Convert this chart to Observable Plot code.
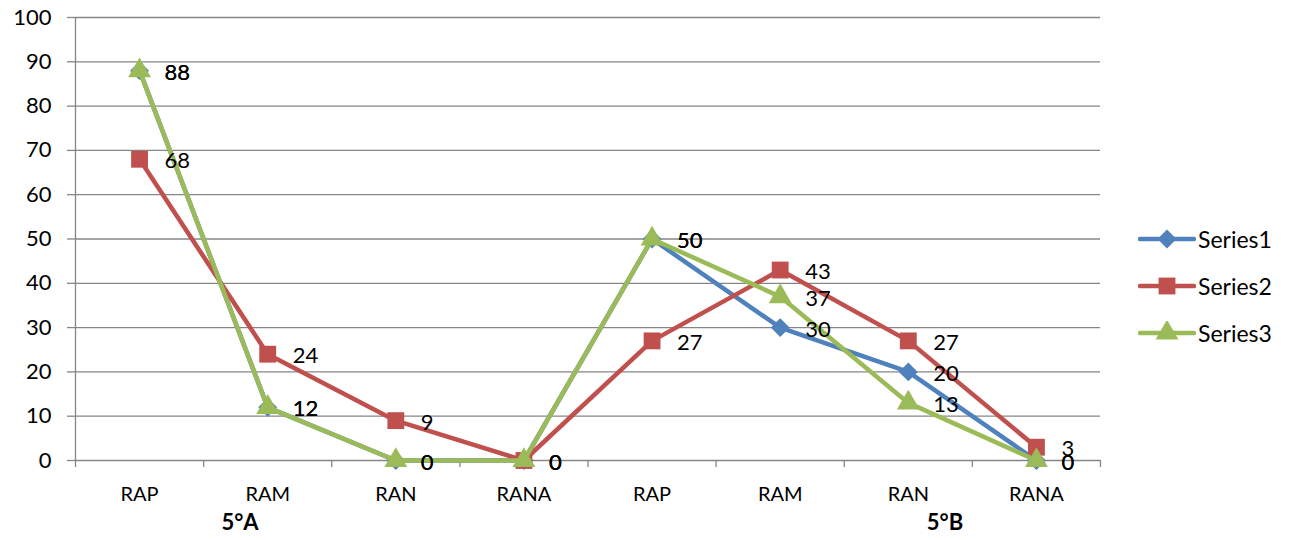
<!DOCTYPE html>
<html>
<head>
<meta charset="utf-8">
<script src="https://cdn.jsdelivr.net/npm/d3@7"></script>
<script src="https://cdn.jsdelivr.net/npm/@observablehq/plot@0.6"></script>
<style>
  html, body { margin: 0; padding: 0; background: #fff; }
  #wrap { position: relative; width: 1292px; height: 540px; font-family: Lato, "Liberation Sans", sans-serif; }
  #wrap svg.plot { position: absolute; left: 0; top: 0; }
  .legend { position: absolute; left: 1138px; top: 215px; font-size: 23px; color: #000; }
  .legend .item { display: flex; align-items: center; height: 47px; }
  .legend .item svg { margin-right: 2px; }
  .group { position: absolute; font-weight: bold; font-size: 22px; transform: translateX(-50%); line-height: 26px; }
</style>
</head>
<body>
<div id="wrap"></div>
<script>
const categories = ["RAP", "RAM", "RAN", "RANA", "RAP", "RAM", "RAN", "RANA"];
const groups = ["5°A", "5°B"];
const seriesNames = ["Series1", "Series2", "Series3"];
const series1 = [88, 12, 0, 0, 50, 30, 20, 0];
const series2 = [68, 24, 9, 0, 27, 43, 27, 3];
const series3 = [88, 12, 0, 0, 50, 37, 13, 0];
const yTicks = [0, 10, 20, 30, 40, 50, 60, 70, 80, 90, 100];

const colors = ["#4F81BD", "#C0504D", "#9BBB59"];
const symbols = ["diamond2", "square", "triangle"];
const radii = [8.5, 9.5, 8.5];
const gray = "#868686";
const allSeries = [series1, series2, series3];

const rows = allSeries.map((vals, s) => vals.map((v, i) => ({series: seriesNames[s], i, v})));
const boundaries = d3.range(-0.5, 8, 1);

const marks = [
  Plot.ruleY(yTicks, {x1: -0.5, x2: 7.5, stroke: gray, strokeWidth: 1.3}),
  Plot.axisY(yTicks, {tickSize: 8, tickPadding: 16, stroke: gray, strokeWidth: 1.3, fontSize: 22, fill: "#000", label: null}),
  Plot.ruleX([-0.5], {y1: 0, y2: 100, stroke: gray, strokeWidth: 1.3}),
  Plot.axisX(boundaries, {tickSize: 7, tickFormat: () => "", stroke: gray, strokeWidth: 1.3, label: null}),
  Plot.text(categories, {x: (d, i) => i, y: () => 0, text: d => d, dy: 34, fontSize: 20, fill: "#000"})
];
rows.forEach((data, s) => {
  marks.push(Plot.line(data, {x: "i", y: "v", stroke: colors[s], strokeWidth: 4.5, strokeLinejoin: "round"}));
  marks.push(Plot.dot(data, {x: "i", y: "v", symbol: symbols[s], r: radii[s], fill: colors[s], stroke: "none"}));
});
rows.forEach((data, s) => {
  marks.push(Plot.text(data, {x: "i", y: "v", text: d => String(d.v), dx: 25, dy: 2, textAnchor: "start", fontSize: 22, fill: "#000"}));
});

const chart = Plot.plot({
  width: 1292,
  height: 540,
  marginLeft: 75,
  marginRight: 192,
  marginTop: 17,
  marginBottom: 80,
  x: {type: "linear", domain: [-0.5, 7.5]},
  y: {domain: [0, 100]},
  style: {fontFamily: "Lato, 'Liberation Sans', sans-serif", background: "#fff", overflow: "visible"},
  marks
});
chart.classList.add("plot");
const wrap = document.getElementById("wrap");
wrap.appendChild(chart);

// group labels
const groupLeft = [240, 945];
groups.forEach((g, k) => {
  const el = document.createElement("div");
  el.className = "group";
  el.textContent = g;
  el.style.left = groupLeft[k] + "px";
  el.style.top = "509px";
  wrap.appendChild(el);
});

// legend
const legend = document.createElement("div");
legend.className = "legend";
seriesNames.forEach((name, s) => {
  const item = document.createElement("div");
  item.className = "item";
  const sym = d3.symbol().type([d3.symbolDiamond2, d3.symbolSquare, d3.symbolTriangle][s]).size(Math.PI * radii[s] * radii[s]);
  item.innerHTML = `<svg width="58" height="24" viewBox="0 0 58 24"><line x1="2" y1="12" x2="56" y2="12" stroke="${colors[s]}" stroke-width="4.5" stroke-linecap="round"/><path transform="translate(29,12)" d="${sym()}" fill="${colors[s]}"/></svg><span>${name}</span>`;
  legend.appendChild(item);
});
wrap.appendChild(legend);
</script>
</body>
</html>
